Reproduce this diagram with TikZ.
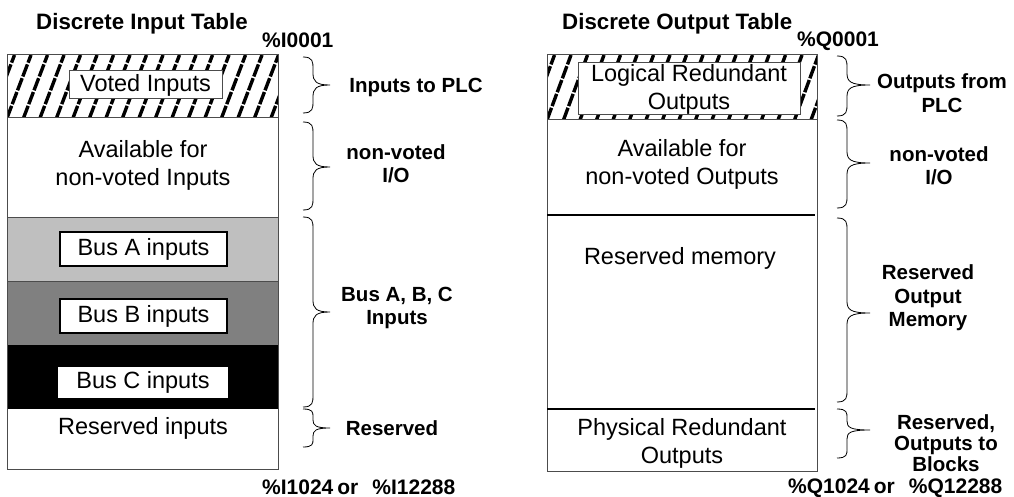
\documentclass[tikz,border=0pt]{standalone}
\usepackage{fontspec}
\setmainfont{Liberation Sans}
% #1 left x, #2 tip x, #3 top y, #4 mid y, #5 bottom y, #6 radius
\newcommand\curlybr[6]{%
  \draw[bracestyle] (#1,#3) .. controls ({#1+10},#3) and ({#1+10},{#3+#6*0.4}) .. ({#1+10},{#3+#6})
    -- ({#1+10},{#4-#6}) .. controls ({#1+10},{#4-#6*0.3}) and ({#1+13},#4) .. (#2,#4)
    .. controls ({#1+13},#4) and ({#1+10},{#4+#6*0.3}) .. ({#1+10},{#4+#6})
    -- ({#1+10},{#5-#6}) .. controls ({#1+10},{#5-#6*0.4}) and ({#1+10},#5) .. (#1,#5);}
\begin{document}
\begin{tikzpicture}[x=1pt,y=-1pt,
  txt/.style={font=\fontsize{23.5}{28}\selectfont, align=center, inner sep=0pt},
  lbl/.style={font=\bfseries\fontsize{20.5}{23.5}\selectfont, align=center, inner sep=0pt},
  pct/.style={font=\bfseries\fontsize{21}{24}\selectfont, inner sep=0pt},
  ttl/.style={font=\bfseries\fontsize{22.3}{27}\selectfont, inner sep=0pt},
  bracestyle/.style={draw=black, line width=0.8pt},
  hatchline/.style={line width=3.4pt, dash pattern=on 13pt off 1.8pt},
  frame/.style={draw=black!70, line width=1pt},
  thickrule/.style={draw=black, line width=2.4pt},
  busbox/.style={txt, draw=black, line width=1.6pt, fill=white, minimum width=167pt, minimum height=34pt}]
\useasboundingbox (0,0) rectangle (1014,497);

% ---------------- Left table ----------------
\fill[black!25] (7,217) rectangle (278,281);
\fill[black!50] (7,281) rectangle (278,345);
\fill[black] (7,345) rectangle (278,409);
\begin{scope}
  \clip (7,55) rectangle (278,118);
  \foreach \i in {-3,...,18} \draw[hatchline] ({7+\i*16.5},118) -- ({31+\i*16.5},55);
\end{scope}
\draw[frame] (7,118) -- (278,118);
\draw[draw=black!70, line width=0.8pt] (7,217) -- (278,217) (7,281) -- (278,281);
\draw[frame] (7,55) rectangle (278,469);

\node[txt, draw=black!70, line width=1pt, fill=white, minimum width=153pt, minimum height=28pt] (voted) at (145.5,85) {Voted Inputs};
\node[txt] (availI) at (143,165) {Available for\\non-voted Inputs};
\node[busbox] (busA) at (143.5,249) {Bus A inputs};
\node[busbox] (busB) at (143.5,316) {Bus B inputs};
\node[txt, fill=white, minimum width=170pt, minimum height=31pt] (busC) at (143,382.5) {Bus C inputs};
\node[txt] (resI) at (143,428) {Reserved inputs};

\node[ttl, anchor=west] (titleI) at (36,24) {Discrete Input Table};
\node[pct, anchor=west] (i0001) at (262,40) {\%I0001};
\node[pct, anchor=west] (iend) at (262,487) {\%I1024\hspace{4pt}or\hspace{14pt}\%I12288};

\curlybr{303}{330}{57}{85}{113}{12}
\curlybr{303}{330}{122}{167}{210}{12}
\curlybr{303}{330}{217}{312}{407}{12}
\curlybr{303}{330}{409}{428}{447}{8}

\node[lbl] (lI1) at (416,87) {Inputs to PLC};
\node[lbl] (lI2) at (396,164) {non-voted\\I/O};
\node[lbl] (lI3) at (397,308) {Bus A, B, C\\Inputs};
\node[lbl] (lI4) at (392,428) {Reserved};

% ---------------- Right table ----------------
\begin{scope}
  \clip (547,55) rectangle (817,120);
  \foreach \i in {-3,...,18} \draw[hatchline] ({547+\i*16.5},120) -- ({571+\i*16.5},55);
\end{scope}
\draw[frame] (547,120) -- (817,120);
\draw[frame] (547,55) rectangle (817,471);
\draw[thickrule] (547,215) -- (815,215);
\draw[thickrule] (547,409) -- (815,409);

\node[txt, draw=black!70, line width=1pt, fill=white, minimum width=222pt, minimum height=52pt] (logical) at (689,89) {Logical Redundant\\Outputs};
\node[txt] (availO) at (682,164) {Available for\\non-voted Outputs};
\node[txt] (resmem) at (680,258) {Reserved memory};
\node[txt] (phys) at (682,443) {Physical Redundant\\Outputs};

\node[ttl, anchor=west] (titleO) at (562,24) {Discrete Output Table};
\node[pct, anchor=west] (q0001) at (797,41) {\%Q0001};
\node[pct, anchor=west] (qend) at (788,488) {\%Q1024\hspace{4pt}or\hspace{14pt}\%Q12288};

\curlybr{837}{870}{56}{85}{116}{12}
\curlybr{837}{870}{120}{163}{208}{12}
\curlybr{837}{870}{218}{313}{402}{12}
\curlybr{837}{870}{409}{430}{458}{9}

\node[lbl] (lO1) at (942,93) {Outputs from\\PLC};
\node[lbl] (lO2) at (939,166) {non-voted\\I/O};
\node[lbl] (lO3) at (928,298) {Reserved\\Output\\Memory};
\node[lbl, font=\bfseries\fontsize{20.5}{21}\selectfont] (lO4) at (946,443) {Reserved,\\Outputs to\\Blocks};
\end{tikzpicture}
\end{document}
